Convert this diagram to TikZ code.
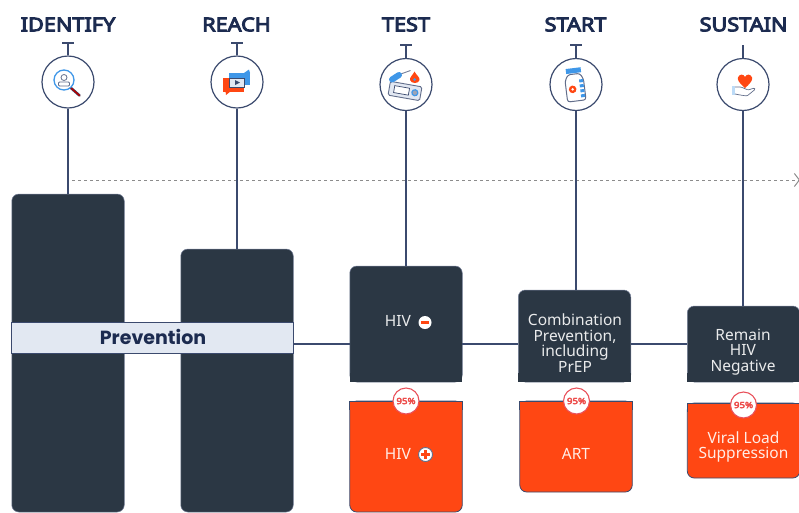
\documentclass[tikz,border=0pt]{standalone}
\usepackage{fontspec}
\setmainfont{Noto Sans}
\newfontfamily\titlefont[FakeBold=5, FakeStretch=1.14]{Noto Sans}
\newfontfamily\prevfont{Poppins}
\usetikzlibrary{arrows.meta,positioning,calc}
\definecolor{navy}{HTML}{1C2B50}
\definecolor{stemblue}{HTML}{3B4A6E}
\definecolor{slate}{HTML}{2B3744}
\definecolor{flame}{HTML}{FF4713}
\definecolor{mist}{HTML}{E2E8F2}
\definecolor{sky}{HTML}{3F97E8}
\definecolor{rim}{HTML}{E9505A}

\tikzset{
    line/.style={color=stemblue, line width=1.4pt},
    ring/.style={circle, draw=stemblue, line width=1.2pt, fill=white, minimum size=52pt, inner sep=0pt},
    title/.style={font=\titlefont\fontsize{19}{20}\selectfont, text=navy},
    darkbox/.style={draw=stemblue!70!white, line width=0.5pt, fill=slate, rounded corners=7pt, minimum width=112.5pt, inner sep=0pt, outer sep=0pt},
    hotbox/.style={darkbox, draw=stemblue, line width=0.8pt, fill=flame},
    darktext/.style={text=white!90!slate, align=center, font=\fontsize{15.5}{15.4}\selectfont},
    hottext/.style={text=white!90!flame, align=center, font=\fontsize{15.5}{15}\selectfont},
    badge/.style={circle, draw=rim, line width=1.1pt, fill=white, minimum size=26pt, inner sep=0pt,
        text=rim!80!flame, font=\titlefont\fontsize{8.5}{9}\selectfont},
    iconline/.style={draw=stemblue!80, line width=0.7pt},
}

\begin{document}
\begin{tikzpicture}[x=1pt, y=-1pt]
    \useasboundingbox (0, 0) rectangle (799, 512);

    \node[title] (tIdentify) at (68, 24.5) {IDENTIFY};
    \node[title] (tReach) at (236.5, 24.5) {REACH};
    \node[title] (tTest) at (406, 24.5) {TEST};
    \node[title] (tStart) at (575.5, 24.5) {START};
    \node[title] (tSustain) at (743.5, 24.5) {SUSTAIN};

    \draw[color=black!45, line width=1pt, dash pattern=on 3pt off 3pt, -{Straight Barb[length=5pt, width=13pt]}] (72, 180) coordinate (dashL) -- (800, 180) coordinate (dashR);

    % circles at the top of each column
    \node[ring] (cIdentify) at (68, 82) {};
    \node[ring] (cReach) at (237, 82) {};
    \node[ring] (cTest) at (406, 84.5) {};
    \node[ring] (cStart) at (576, 84.5) {};
    \node[ring] (cSustain) at (743, 84.5) {};

    % dark boxes
    \node[darkbox, minimum height=318pt] (bIdentify) at (68, 353) {};
    \node[darkbox, minimum height=263pt] (bReach) at (237, 380.5) {};
    \node[darkbox, minimum height=116pt] (bTest) at (406, 324) {};
    \node[darkbox, minimum height=92pt] (bStart) at (574.5, 336) {};
    \node[darkbox, minimum height=76pt] (bSustain) at (743.5, 344) {};
    \foreach \b in {bTest, bStart, bSustain}
        \fill[slate] ([yshift=9pt]\b.south west) rectangle (\b.south east);

    \node[darktext] (lMinus) at (398, 321) {HIV};
    \node[darktext] (lStart) at (575, 343) {Combination\\Prevention,\\including\\PrEP};
    \node[darktext] (lSustain) at (743, 352) {Remain\\HIV\\Negative};

    % orange boxes, square at the top
    \node[hotbox, minimum height=111pt] (oTest) at (406, 456.5) {};
    \node[hotbox, minimum height=91pt] (oStart) at (576, 446.5) {};
    \node[hotbox, minimum height=75pt] (oSustain) at (743.5, 440.5) {};
    \foreach \b in {oTest, oStart, oSustain} {
        \fill[flame] ([yshift=-9pt]\b.north west) rectangle (\b.north east);
        \draw[stemblue, line width=0.8pt] ([yshift=-9pt]\b.north west) -- (\b.north west) -- (\b.north east) -- ([yshift=-9pt]\b.north east);
    }
    \node[hottext] (lPlus) at (398, 453.5) {HIV};
    \node[hottext] (lArt) at (576, 453.5) {ART};
    \node[hottext] (lViral) at (743.5, 447) {Viral Load\\Suppression};

    % stems
    \foreach \c/\b in {cIdentify/bIdentify, cReach/bReach, cTest/bTest, cStart/bStart, cSustain/bSustain}
        \draw[line] (\c.south) -- (\c.south |- \b.north);
    \foreach \c/\y in {cIdentify/43, cReach/43, cTest/45, cStart/45, cSustain/45}
        \draw[line] (\c.north) -- (\c.north |- 0, \y);
    \foreach \c/\y in {cIdentify/43, cReach/43, cTest/45, cStart/45}
        \draw[line] ($(\c.north |- 0, \y) + (-6, 0)$) -- ($(\c.north |- 0, \y) + (6, 0)$);

    % prevention band
    \node[draw=stemblue, line width=0.7pt, fill=mist, minimum width=282pt, minimum height=31.5pt, inner sep=0pt] (band) at (152, 338) {};
    \node[text=navy, font=\prevfont\fontsize{19}{20}\selectfont\bfseries] (lBand) at (153, 337) {Prevention};

    \coordinate (mid) at (0, 344);
    \draw[line] (band.east |- mid) -- (bTest.west |- mid);
    \draw[line] (bTest.east |- mid) -- (bStart.west |- mid);
    \draw[line] (bStart.east |- mid) -- (bSustain.west |- mid);

    \node[badge] (pTest) at (406, 401) {95\%};
    \node[badge] (pStart) at (576.5, 401) {95\%};
    \node[badge] (pSustain) at (743.5, 405) {95\%};

    % minus and plus marks
    \node[circle, fill=white, minimum size=13pt, inner sep=0pt] (mMinus) at (425, 322.5) {};
    \fill[flame] ($(mMinus)+(-4,-1.3)$) rectangle ($(mMinus)+(4,1.3)$);
    \node[circle, draw=stemblue!80!white, line width=0.9pt, fill=white, minimum size=14pt, inner sep=0pt] (mPlus) at (425.5, 454.5) {};
    \fill[flame] ($(mPlus)+(-4.5,-1.3)$) rectangle ($(mPlus)+(4.5,1.3)$);
    \fill[flame] ($(mPlus)+(-1.3,-4.5)$) rectangle ($(mPlus)+(1.3,4.5)$);

    % icon: magnifier
    \draw[stemblue, line width=2.6pt, line cap=round] (71, 88) -- (79.5, 95.5);
    \draw[color=red!70!black, line width=1.5pt, line cap=round] (71, 88) -- (79.5, 95.5);
    \draw[sky, line width=1.3pt, fill=white] (64, 80) circle (10);
    \draw[stemblue!80, line width=0.8pt] (64, 77.5) circle (3);
    \draw[stemblue!80, line width=0.8pt, rounded corners=1pt] (58.5, 86) rectangle (69.5, 82);

    % icon: chat bubbles
    \fill[sky] (229, 73) rectangle (250, 85);
    \fill[sky] (244, 73) -- (249, 69.5) -- (250, 73) -- cycle;
    \fill[flame] (223, 78) rectangle (244, 91.5);
    \fill[flame] (225.5, 91) -- (226, 95) -- (231, 91) -- cycle;
    \draw[stemblue, line width=1pt, fill=mist] (229.5, 78) rectangle (244.5, 87);
    \fill[stemblue] (235, 80) -- (240, 82.5) -- (235, 85) -- cycle;

    % icon: test kit
    \begin{scope}[shift={(405, 91)}, rotate=-10]
        \draw[stemblue!80, line width=0.9pt, fill=mist, rounded corners=1.5pt] (-16, -7) rectangle (16, 7);
        \draw[stemblue, line width=0.7pt, fill=white] (-11, -3.5) rectangle (4, 3.5);
        \draw[sky, line width=1.2pt, fill=stemblue!50] (10, 0) circle (3);
    \end{scope}
    \draw[stemblue!70, line width=0.9pt] (398, 75) -- (410.5, 70.5);
    \draw[sky, line width=6pt, line cap=round] (392, 79.5) -- (399, 75);
    \fill[flame] (414.5, 71.5) .. controls (416, 75) and (420, 77) .. (419.5, 80) .. controls (419, 84) and (411, 84) .. (410, 80) .. controls (409.5, 77) and (413, 75) .. (414.5, 71.5) -- cycle;
    \fill[sky] (414.5, 79.5) circle (1.5);

    % icon: jar
    \begin{scope}[shift={(575.5, 88)}, rotate=7]
        \draw[stemblue!80, line width=1pt, fill=white, rounded corners=2.5pt] (-6, -14) -- (-9.5, -8) -- (-9.5, 13) -- (9, 13) -- (9, -8) -- (6, -14) -- cycle;
        \fill[sky] (-7.5, -20) rectangle (7.5, -15);
        \fill[flame] (-3, 1) circle (3.8);
        \fill[white] (-3, 1) circle (1.4);
        \foreach \y in {-8, -3, 2, 7}
            \fill[sky] (4.5, \y) rectangle (8.5, \y + 3);
    \end{scope}

    % icon: heart and hand
    \fill[flame] (745, 88) .. controls (738, 82) and (737.5, 79.5) .. (738, 77.5) .. controls (739, 74) and (743.5, 73.5) .. (745, 77) .. controls (746.5, 73.5) and (751, 74) .. (752, 77.5) .. controls (752.5, 79.5) and (752, 82) .. (745, 88) -- cycle;
    \fill[sky!35] (732, 86) rectangle (735, 94.5);
    \draw[iconline, line join=round, rounded corners=1pt] (735, 87) -- (741, 87) -- (748, 90) -- (754.5, 88) -- (755, 89.5) -- (747, 96) -- (740, 95) -- (735, 94);
\end{tikzpicture}
\end{document}
